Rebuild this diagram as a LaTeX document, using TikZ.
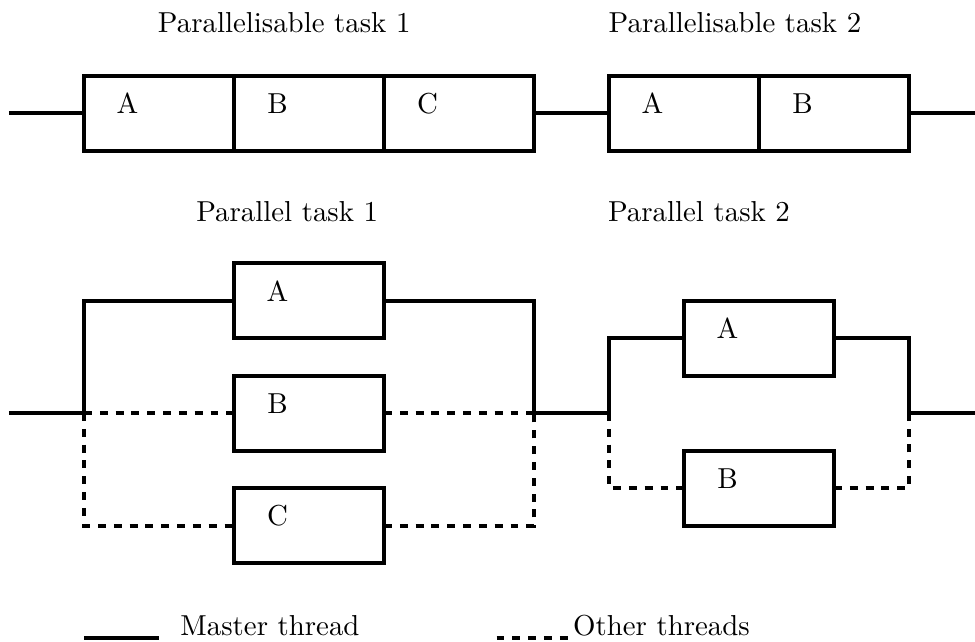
\documentclass[tikz,border=0pt,11pt]{standalone}
\usetikzlibrary{positioning}

\tikzset{
  task/.style={rectangle, draw, line width=1.5pt, minimum width=2cm, minimum height=1cm, inner sep=0pt, outer sep=0pt},
  tag/.style={anchor=center, xshift=0.58cm, yshift=-0.37cm},
  master/.style={line width=1.5pt},
  other/.style={line width=1.5pt, dashed},
}

\begin{document}
\begin{tikzpicture}
    \useasboundingbox (-1.12,1.507) rectangle (11.88,-7.04);

    % parallelisable tasks (one thread)
    \node (title1) at (2.67,1.21) {Parallelisable task 1};
    \node (title2) at (8.68,1.21) {Parallelisable task 2};

    \node (a1) [task] at (1,0) {};
    \node (b1) [task, right=0cm of a1] {};
    \node (c1) [task, right=0cm of b1] {};
    \node (a2) [task] at (8,0) {};
    \node (b2) [task, right=0cm of a2] {};

    \node (la1) [tag] at (a1.north west) {A};
    \node (lb1) [tag] at (b1.north west) {B};
    \node (lc1) [tag] at (c1.north west) {C};
    \node (la2) [tag] at (a2.north west) {A};
    \node (lb2) [tag] at (b2.north west) {B};

    \coordinate (in1) at (-1,0);
    \coordinate (out1) at (11.9,0);
    \draw[master] (in1) -- (a1);
    \draw[master] (c1) -- (a2);
    \draw[master] (b2) -- (out1);

    % parallel tasks (several threads)
    \node (title3) at (2.71,-1.32) {Parallel task 1};
    \node (title4) at (8.2,-1.32) {Parallel task 2};

    \node (pa1) [task] at (3,-2.5) {};
    \node (pb1) [task] at (3,-4) {};
    \node (pc1) [task] at (3,-5.5) {};
    \node (pa2) [task] at (9,-3) {};
    \node (pb2) [task] at (9,-5) {};

    \node (lpa1) [tag] at (pa1.north west) {A};
    \node (lpb1) [tag] at (pb1.north west) {B};
    \node (lpc1) [tag] at (pc1.north west) {C};
    \node (lpa2) [tag] at (pa2.north west) {A};
    \node (lpb2) [tag] at (pb2.north west) {B};

    \coordinate (in2) at (-1,-4);
    \coordinate (fork1) at (0,-4);
    \coordinate (join1) at (6,-4);
    \coordinate (fork2) at (7,-4);
    \coordinate (join2) at (11,-4);
    \coordinate (out2) at (11.9,-4);

    \draw[master] (in2) -- (fork1) |- (pa1);
    \draw[master] (pa1) -| (join1) -- (fork2) |- (pa2);
    \draw[master] (pa2) -| (join2) -- (out2);

    \draw[other] (fork1) -- (pb1);
    \draw[other] (pb1) -- (join1);
    \draw[other] (fork1) |- (pc1);
    \draw[other] (pc1) -| (join1);
    \draw[other] (fork2) |- (pb2);
    \draw[other] (pb2) -| (join2);

    % legend
    \coordinate (m0) at (0,-7);
    \coordinate (m1) at (1,-7);
    \coordinate (o0) at (5.5,-7);
    \coordinate (o1) at (6.5,-7);
    \draw[master] (m0) -- (m1);
    \draw[other] (o0) -- (o1);
    \node (mlabel) at (2.48,-6.83) {Master thread};
    \node (olabel) at (7.7,-6.83) {Other threads};
\end{tikzpicture}
\end{document}
